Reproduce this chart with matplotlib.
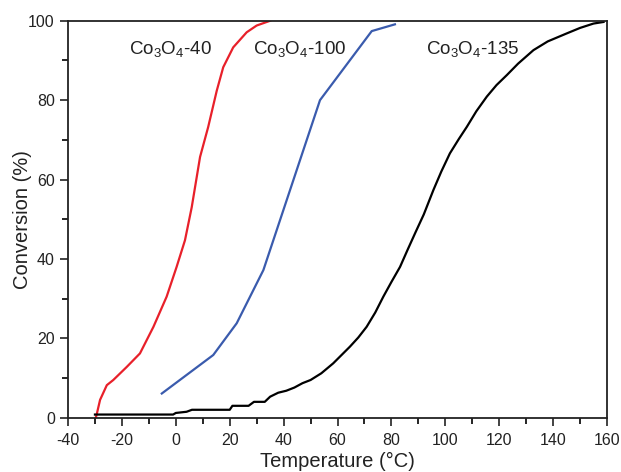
import matplotlib
matplotlib.use("Agg")
import matplotlib.pyplot as plt

plt.rcParams['font.family'] = ['Liberation Sans', 'DejaVu Sans']
plt.rcParams['mathtext.default'] = 'regular'
plt.rcParams['axes.unicode_minus'] = False

# Co3O4-40 (red)
t40 = [-29.7, -29.4, -28.1, -25.6, -23.2, -18.2, -13.3, -8.3, -3.4, 0.3, 3.4, 5.9,
       9.0, 12.0, 15.2, 17.6, 21.3, 26.3, 30.0, 35.0]
c40 = [0.0, 0.7, 4.5, 8.2, 9.5, 12.8, 16.2, 22.9, 30.5, 38.0, 44.7, 53.0,
       65.7, 73.2, 82.4, 88.3, 93.3, 97.1, 98.8, 100.0]

# Co3O4-100 (blue)
t100 = [-5.2, 13.9, 22.6, 32.5, 53.5, 72.7, 81.3]
c100 = [6.1, 15.8, 23.8, 37.2, 80.0, 97.4, 99.1]

# Co3O4-135 (black)
t135 = [-30, -1, 0, 4, 6, 20, 21, 27, 29, 33, 35, 38, 41, 44, 47, 50, 54, 58.4,
        61.5, 64.6, 67.7, 70.8, 74, 77, 80, 83.2, 86, 89, 92, 95.6, 98.5, 101.7,
        105, 108, 111.5, 115.4, 119, 122.8, 127, 132.7, 138, 145, 150, 155, 158.7]
c135 = [0.8, 0.8, 1.2, 1.5, 2.0, 2.0, 3.0, 3.0, 4.0, 4.0, 5.3, 6.3, 6.8, 7.6, 8.7,
        9.5, 11.2, 13.7, 15.8, 17.9, 20.2, 22.9, 26.5, 30.5, 34.2, 38.0, 42.3, 46.8,
        51.2, 57.4, 62.0, 66.6, 70.2, 73.3, 77.2, 80.9, 83.8, 86.3, 89.2, 92.6, 94.8,
        96.8, 98.2, 99.3, 99.7]

labels = ['Co$_3$O$_4$-40', 'Co$_3$O$_4$-100', 'Co$_3$O$_4$-135']

fig = plt.figure(figsize=(6.21, 4.72), dpi=100)
ax = fig.add_axes([0.1095, 0.115, 0.868, 0.841])

ax.plot(t40, c40, color='#e8202a', lw=1.6)
ax.plot(t100, c100, color='#3a5bad', lw=1.6)
ax.plot(t135, c135, color='black', lw=1.6)

ax.set_xlim(-40, 160)
ax.set_ylim(0, 100)
ax.set_xticks(range(-40, 161, 20))
ax.set_xticks(range(-30, 160, 20), minor=True)
ax.set_yticks(range(0, 101, 20))
ax.set_yticks(range(10, 100, 20), minor=True)
ax.tick_params(which='major', direction='out', length=6, width=1.2, labelsize=11.5, colors='#222222')
ax.tick_params(axis='x', which='major', pad=5)
ax.tick_params(which='minor', direction='out', length=4, width=1.2)
for s in ax.spines.values():
    s.set_linewidth(1.3)
    s.set_color('#222222')

ax.set_xlabel('Temperature (°C)', fontsize=14.5, color='#222222', labelpad=3)
ax.set_ylabel('Conversion (%)', fontsize=14.5, color='#222222', labelpad=-3)

ax.text(-2, 93, labels[0], fontsize=13.5, ha='center', va='center', color='#222222')
ax.text(46, 93, labels[1], fontsize=13.5, ha='center', va='center', color='#222222')
ax.text(110, 93, labels[2], fontsize=13.5, ha='center', va='center', color='#222222')

fig.savefig('out.png', dpi=100)
